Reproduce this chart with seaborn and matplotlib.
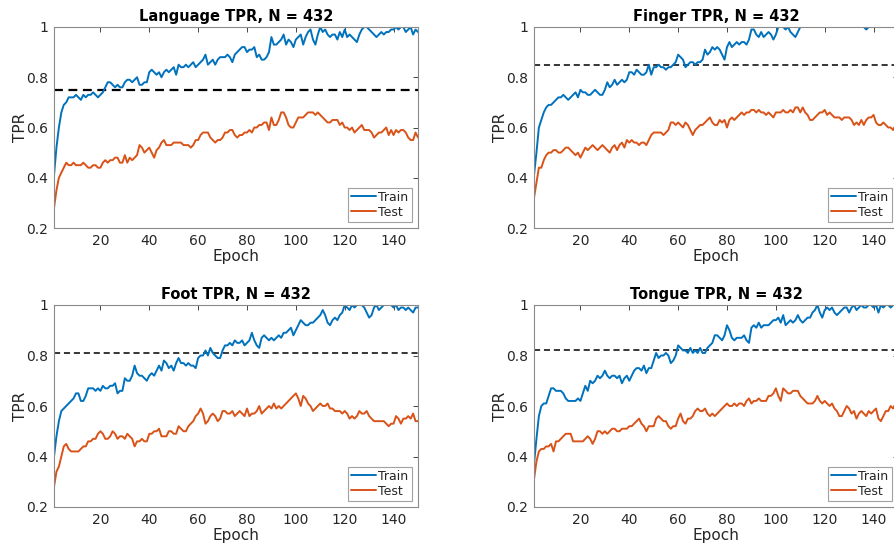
import numpy as np
import pandas as pd
import matplotlib
matplotlib.use("Agg")
import matplotlib.pyplot as plt
import seaborn as sns

# ---- data -------------------------------------------------------------
epochs = list(range(1, 151))

panel_titles = ["Language TPR, N = 432", "Finger TPR, N = 432",
                "Foot TPR, N = 432", "Tongue TPR, N = 432"]
chance_levels = [0.75, 0.85, 0.81, 0.82]

language_train = [
    0.41, 0.52, 0.60, 0.66, 0.69, 0.70, 0.72, 0.72, 0.72, 0.73,
    0.72, 0.71, 0.73, 0.72, 0.73, 0.73, 0.74, 0.73, 0.72, 0.73,
    0.74, 0.76, 0.78, 0.78, 0.77, 0.76, 0.77, 0.76, 0.76, 0.78,
    0.79, 0.79, 0.78, 0.79, 0.80, 0.77, 0.77, 0.78, 0.78, 0.82,
    0.83, 0.82, 0.81, 0.82, 0.80, 0.82, 0.83, 0.82, 0.83, 0.84,
    0.81, 0.85, 0.84, 0.84, 0.85, 0.84, 0.85, 0.86, 0.84, 0.85,
    0.86, 0.87, 0.89, 0.85, 0.86, 0.87, 0.85, 0.87, 0.88, 0.88,
    0.88, 0.89, 0.88, 0.86, 0.89, 0.90, 0.91, 0.92, 0.92, 0.90,
    0.91, 0.91, 0.92, 0.88, 0.89, 0.87, 0.87, 0.88, 0.90, 0.96,
    0.93, 0.93, 0.94, 0.95, 0.97, 0.93, 0.95, 0.94, 0.92, 0.95,
    0.96, 0.97, 0.93, 0.96, 0.98, 0.99, 0.95, 0.93, 0.97, 1.00,
    0.98, 0.99, 0.97, 0.96, 0.97, 0.97, 0.95, 0.98, 0.96, 0.99,
    0.96, 0.97, 0.96, 0.95, 0.94, 0.97, 0.99, 1.00, 1.00, 0.99,
    0.98, 0.97, 0.96, 0.97, 0.98, 0.97, 0.98, 0.98, 0.99, 0.99,
    1.00, 0.99, 1.00, 1.00, 0.98, 0.99, 1.00, 0.97, 0.99, 0.98,
]
language_test = [
    0.28, 0.35, 0.40, 0.42, 0.44, 0.46, 0.45, 0.45, 0.46, 0.45,
    0.45, 0.45, 0.46, 0.45, 0.44, 0.44, 0.45, 0.45, 0.44, 0.44,
    0.46, 0.47, 0.46, 0.47, 0.47, 0.48, 0.48, 0.46, 0.46, 0.49,
    0.46, 0.48, 0.47, 0.48, 0.49, 0.53, 0.52, 0.50, 0.51, 0.52,
    0.50, 0.48, 0.51, 0.52, 0.54, 0.55, 0.53, 0.53, 0.53, 0.54,
    0.54, 0.54, 0.54, 0.53, 0.53, 0.53, 0.52, 0.53, 0.55, 0.55,
    0.57, 0.58, 0.58, 0.58, 0.56, 0.55, 0.54, 0.55, 0.55, 0.56,
    0.58, 0.58, 0.59, 0.59, 0.57, 0.56, 0.57, 0.57, 0.58, 0.58,
    0.59, 0.58, 0.60, 0.60, 0.61, 0.61, 0.62, 0.62, 0.59, 0.64,
    0.61, 0.61, 0.63, 0.66, 0.66, 0.64, 0.61, 0.60, 0.60, 0.62,
    0.64, 0.64, 0.64, 0.65, 0.66, 0.66, 0.66, 0.65, 0.66, 0.65,
    0.64, 0.63, 0.62, 0.62, 0.63, 0.63, 0.63, 0.61, 0.62, 0.60,
    0.60, 0.59, 0.60, 0.58, 0.59, 0.60, 0.61, 0.59, 0.59, 0.59,
    0.58, 0.56, 0.57, 0.58, 0.58, 0.59, 0.60, 0.57, 0.59, 0.57,
    0.59, 0.58, 0.59, 0.59, 0.58, 0.56, 0.55, 0.55, 0.58, 0.56,
]

finger_train = [
    0.41, 0.50, 0.60, 0.63, 0.66, 0.68, 0.69, 0.69, 0.70, 0.71,
    0.72, 0.72, 0.73, 0.72, 0.71, 0.72, 0.73, 0.74, 0.72, 0.75,
    0.74, 0.74, 0.73, 0.73, 0.74, 0.75, 0.74, 0.73, 0.73, 0.75,
    0.78, 0.76, 0.77, 0.79, 0.77, 0.78, 0.79, 0.78, 0.79, 0.82,
    0.82, 0.81, 0.83, 0.82, 0.81, 0.81, 0.82, 0.85, 0.81, 0.84,
    0.84, 0.85, 0.84, 0.84, 0.83, 0.84, 0.84, 0.85, 0.86, 0.89,
    0.88, 0.87, 0.84, 0.85, 0.86, 0.86, 0.85, 0.86, 0.86, 0.87,
    0.91, 0.89, 0.90, 0.92, 0.91, 0.92, 0.91, 0.89, 0.87, 0.92,
    0.94, 0.92, 0.93, 0.94, 0.93, 0.94, 0.94, 0.93, 0.95, 0.99,
    0.99, 0.97, 0.96, 0.98, 0.96, 0.97, 0.98, 0.97, 0.95, 0.97,
    1.00, 1.00, 1.00, 0.99, 1.00, 0.98, 0.97, 0.96, 0.98, 1.00,
    1.00, 1.00, 1.00, 1.00, 1.00, 1.00, 1.00, 1.00, 1.00, 1.00,
    1.00, 1.00, 1.00, 1.00, 1.00, 1.00, 1.00, 1.00, 1.00, 1.00,
    1.00, 1.00, 1.00, 1.00, 1.00, 1.00, 0.99, 1.00, 1.00, 1.00,
    1.00, 1.00, 1.00, 1.00, 1.00, 1.00, 1.00, 1.00, 1.00, 1.00,
]
finger_test = [
    0.32, 0.38, 0.44, 0.44, 0.47, 0.49, 0.50, 0.50, 0.51, 0.51,
    0.50, 0.50, 0.51, 0.52, 0.52, 0.51, 0.50, 0.49, 0.50, 0.48,
    0.50, 0.52, 0.51, 0.52, 0.53, 0.52, 0.51, 0.52, 0.53, 0.52,
    0.51, 0.50, 0.52, 0.53, 0.51, 0.53, 0.54, 0.52, 0.55, 0.54,
    0.55, 0.54, 0.54, 0.53, 0.54, 0.54, 0.53, 0.55, 0.57, 0.58,
    0.58, 0.58, 0.58, 0.57, 0.58, 0.59, 0.62, 0.62, 0.61, 0.62,
    0.61, 0.60, 0.62, 0.61, 0.59, 0.57, 0.59, 0.60, 0.61, 0.61,
    0.62, 0.63, 0.64, 0.62, 0.61, 0.61, 0.63, 0.62, 0.63, 0.60,
    0.63, 0.64, 0.63, 0.64, 0.65, 0.66, 0.65, 0.66, 0.66, 0.67,
    0.67, 0.66, 0.67, 0.66, 0.66, 0.65, 0.66, 0.65, 0.64, 0.66,
    0.66, 0.66, 0.67, 0.66, 0.66, 0.67, 0.66, 0.68, 0.68, 0.66,
    0.68, 0.66, 0.65, 0.63, 0.63, 0.64, 0.65, 0.66, 0.66, 0.67,
    0.65, 0.66, 0.65, 0.64, 0.64, 0.64, 0.63, 0.64, 0.64, 0.64,
    0.63, 0.61, 0.62, 0.61, 0.63, 0.61, 0.63, 0.64, 0.64, 0.65,
    0.62, 0.61, 0.61, 0.62, 0.61, 0.60, 0.60, 0.59, 0.61, 0.61,
]

foot_train = [
    0.40, 0.48, 0.54, 0.58, 0.59, 0.60, 0.61, 0.62, 0.63, 0.65,
    0.65, 0.62, 0.62, 0.64, 0.67, 0.67, 0.67, 0.66, 0.67, 0.66,
    0.68, 0.67, 0.67, 0.68, 0.68, 0.69, 0.65, 0.66, 0.66, 0.71,
    0.70, 0.70, 0.72, 0.76, 0.73, 0.72, 0.72, 0.71, 0.70, 0.72,
    0.73, 0.72, 0.74, 0.76, 0.74, 0.78, 0.77, 0.75, 0.76, 0.74,
    0.77, 0.79, 0.77, 0.77, 0.76, 0.77, 0.76, 0.76, 0.75, 0.79,
    0.80, 0.80, 0.82, 0.80, 0.83, 0.81, 0.80, 0.79, 0.79, 0.82,
    0.84, 0.84, 0.85, 0.84, 0.86, 0.85, 0.85, 0.86, 0.84, 0.85,
    0.86, 0.89, 0.86, 0.84, 0.83, 0.87, 0.88, 0.87, 0.86, 0.87,
    0.86, 0.87, 0.88, 0.87, 0.89, 0.89, 0.90, 0.91, 0.88, 0.90,
    0.92, 0.94, 0.93, 0.92, 0.92, 0.93, 0.93, 0.94, 0.95, 0.96,
    0.98, 0.96, 0.93, 0.92, 0.94, 0.95, 0.94, 0.96, 0.97, 1.00,
    0.99, 0.98, 1.00, 0.99, 1.00, 1.00, 1.00, 0.99, 0.97, 0.95,
    0.96, 0.99, 1.00, 0.98, 0.99, 1.00, 1.00, 1.00, 1.00, 0.99,
    1.00, 0.98, 0.99, 0.99, 0.98, 0.99, 0.98, 0.97, 0.99, 0.99,
]
foot_test = [
    0.28, 0.34, 0.36, 0.40, 0.44, 0.45, 0.43, 0.42, 0.42, 0.42,
    0.42, 0.43, 0.44, 0.44, 0.46, 0.46, 0.47, 0.47, 0.49, 0.50,
    0.49, 0.47, 0.47, 0.48, 0.50, 0.49, 0.47, 0.48, 0.48, 0.47,
    0.49, 0.48, 0.47, 0.44, 0.46, 0.46, 0.47, 0.46, 0.46, 0.49,
    0.49, 0.50, 0.50, 0.51, 0.48, 0.48, 0.48, 0.50, 0.50, 0.49,
    0.49, 0.52, 0.51, 0.50, 0.50, 0.52, 0.53, 0.54, 0.56, 0.57,
    0.59, 0.57, 0.53, 0.54, 0.56, 0.57, 0.56, 0.54, 0.55, 0.58,
    0.58, 0.57, 0.57, 0.58, 0.56, 0.57, 0.58, 0.57, 0.56, 0.59,
    0.56, 0.57, 0.57, 0.58, 0.60, 0.57, 0.58, 0.59, 0.60, 0.59,
    0.61, 0.59, 0.60, 0.59, 0.60, 0.61, 0.62, 0.63, 0.64, 0.65,
    0.63, 0.60, 0.64, 0.63, 0.61, 0.60, 0.58, 0.59, 0.60, 0.61,
    0.60, 0.60, 0.61, 0.59, 0.59, 0.58, 0.58, 0.58, 0.57, 0.58,
    0.57, 0.55, 0.56, 0.55, 0.56, 0.58, 0.57, 0.57, 0.58, 0.56,
    0.55, 0.54, 0.54, 0.54, 0.54, 0.54, 0.53, 0.52, 0.53, 0.53,
    0.56, 0.55, 0.53, 0.55, 0.55, 0.56, 0.55, 0.57, 0.54, 0.54,
]

tongue_train = [
    0.37, 0.47, 0.56, 0.60, 0.61, 0.61, 0.64, 0.67, 0.67, 0.66,
    0.66, 0.66, 0.65, 0.63, 0.62, 0.62, 0.62, 0.62, 0.63, 0.62,
    0.65, 0.68, 0.66, 0.70, 0.69, 0.70, 0.72, 0.71, 0.72, 0.74,
    0.72, 0.71, 0.72, 0.72, 0.71, 0.72, 0.69, 0.71, 0.72, 0.70,
    0.72, 0.74, 0.75, 0.75, 0.74, 0.76, 0.73, 0.75, 0.75, 0.78,
    0.81, 0.79, 0.80, 0.80, 0.81, 0.80, 0.77, 0.78, 0.80, 0.84,
    0.83, 0.82, 0.82, 0.81, 0.83, 0.81, 0.82, 0.81, 0.83, 0.81,
    0.81, 0.83, 0.84, 0.85, 0.88, 0.88, 0.87, 0.86, 0.88, 0.92,
    0.90, 0.87, 0.86, 0.87, 0.87, 0.87, 0.88, 0.86, 0.85, 0.91,
    0.92, 0.91, 0.93, 0.91, 0.92, 0.92, 0.92, 0.93, 0.94, 0.94,
    0.95, 0.93, 0.96, 0.92, 0.93, 0.94, 0.93, 0.94, 0.96, 0.94,
    0.93, 0.94, 0.95, 0.95, 0.97, 0.98, 1.00, 0.97, 0.95, 0.98,
    0.99, 0.98, 0.99, 0.97, 0.96, 0.97, 0.98, 0.99, 0.99, 0.97,
    0.99, 1.00, 0.98, 0.99, 1.00, 0.99, 0.99, 1.00, 1.00, 0.99,
    1.00, 0.97, 1.00, 0.99, 1.00, 1.00, 0.99, 1.00, 1.00, 1.00,
]
tongue_test = [
    0.31, 0.38, 0.42, 0.43, 0.43, 0.44, 0.44, 0.45, 0.42, 0.46,
    0.46, 0.47, 0.48, 0.49, 0.49, 0.49, 0.46, 0.46, 0.46, 0.46,
    0.46, 0.47, 0.48, 0.47, 0.45, 0.47, 0.50, 0.50, 0.49, 0.50,
    0.49, 0.50, 0.51, 0.51, 0.50, 0.50, 0.51, 0.51, 0.51, 0.52,
    0.52, 0.53, 0.54, 0.55, 0.53, 0.52, 0.50, 0.52, 0.52, 0.52,
    0.55, 0.56, 0.55, 0.54, 0.54, 0.52, 0.51, 0.52, 0.52, 0.55,
    0.57, 0.54, 0.53, 0.55, 0.55, 0.56, 0.58, 0.59, 0.58, 0.58,
    0.59, 0.57, 0.56, 0.57, 0.56, 0.57, 0.58, 0.59, 0.60, 0.61,
    0.60, 0.60, 0.61, 0.60, 0.61, 0.61, 0.60, 0.62, 0.63, 0.61,
    0.62, 0.62, 0.63, 0.62, 0.62, 0.62, 0.64, 0.64, 0.65, 0.67,
    0.64, 0.62, 0.67, 0.66, 0.65, 0.65, 0.66, 0.66, 0.66, 0.64,
    0.63, 0.62, 0.61, 0.61, 0.61, 0.62, 0.64, 0.62, 0.61, 0.62,
    0.61, 0.60, 0.61, 0.59, 0.58, 0.56, 0.56, 0.58, 0.60, 0.59,
    0.57, 0.58, 0.55, 0.57, 0.58, 0.57, 0.56, 0.58, 0.57, 0.58,
    0.59, 0.55, 0.54, 0.56, 0.58, 0.58, 0.60, 0.59, 0.61, 0.60,
]

train_series = [language_train, finger_train, foot_train, tongue_train]
test_series = [language_test, finger_test, foot_test, tongue_test]

xticks = [20, 40, 60, 80, 100, 120, 140]
yticks = [0.2, 0.4, 0.6, 0.8, 1.0]
ytick_labels = ["0.2", "0.4", "0.6", "0.8", "1"]

# ---- styling ----------------------------------------------------------
sns.set_style("white")
plt.rcParams["font.family"] = ["DejaVu Sans"]

BLUE = "#0072BD"
ORANGE = "#D95319"
AX_GREY = "#262626"
FRAME = "#8a8a8a"

W, H = 895, 548
fig = plt.figure(figsize=(W / 100, H / 100), dpi=100)

# axes rectangles in pixels: (left, top, width, height)
rects = [(54, 27, 364, 201), (534, 27, 364, 201),
         (54, 305, 364, 202), (534, 305, 364, 202)]

for i in range(4):
    l, t, w, h = rects[i]
    ax = fig.add_axes([l / W, 1 - (t + h) / H, w / W, h / H])
    df = pd.DataFrame({
        "Epoch": epochs * 2,
        "TPR": train_series[i] + test_series[i],
        "Set": ["Train"] * 150 + ["Test"] * 150,
    })
    sns.lineplot(data=df, x="Epoch", y="TPR", hue="Set",
                 palette={"Train": BLUE, "Test": ORANGE},
                 linewidth=1.4, ax=ax)
    dash_lw = 1.6 if i == 0 else 1.1
    ax.axhline(chance_levels[i], color="black", linestyle=(0, (4, 2.5)),
               linewidth=dash_lw, zorder=1)

    ax.set_xlim(1, 150)
    ax.set_ylim(0.2, 1.0)
    ax.set_xticks(xticks)
    ax.set_yticks(yticks)
    ax.set_yticklabels(ytick_labels)
    ax.tick_params(direction="in", length=3.5, width=0.6, color=AX_GREY,
                   labelsize=10, labelcolor=AX_GREY, top=True, right=True,
                   pad=4)
    for s in ax.spines.values():
        s.set_color(FRAME)
        s.set_linewidth(0.8)
    ax.set_title(panel_titles[i], fontsize=10.5, fontweight="bold",
                 color="black", pad=4)
    ax.set_xlabel("Epoch", fontsize=11, color=AX_GREY, labelpad=1)
    ax.set_ylabel("TPR", fontsize=11, color=AX_GREY, labelpad=-1)

    leg = ax.legend(loc="lower right", fontsize=9, frameon=True,
                    fancybox=False, handlelength=2.0, handletextpad=0.2,
                    borderpad=0.25, labelspacing=0.15, borderaxespad=0.5)
    leg.get_frame().set_edgecolor(FRAME)
    leg.get_frame().set_linewidth(0.8)
    for txt in leg.get_texts():
        txt.set_color(AX_GREY)

fig.savefig("out.png", dpi=100)
